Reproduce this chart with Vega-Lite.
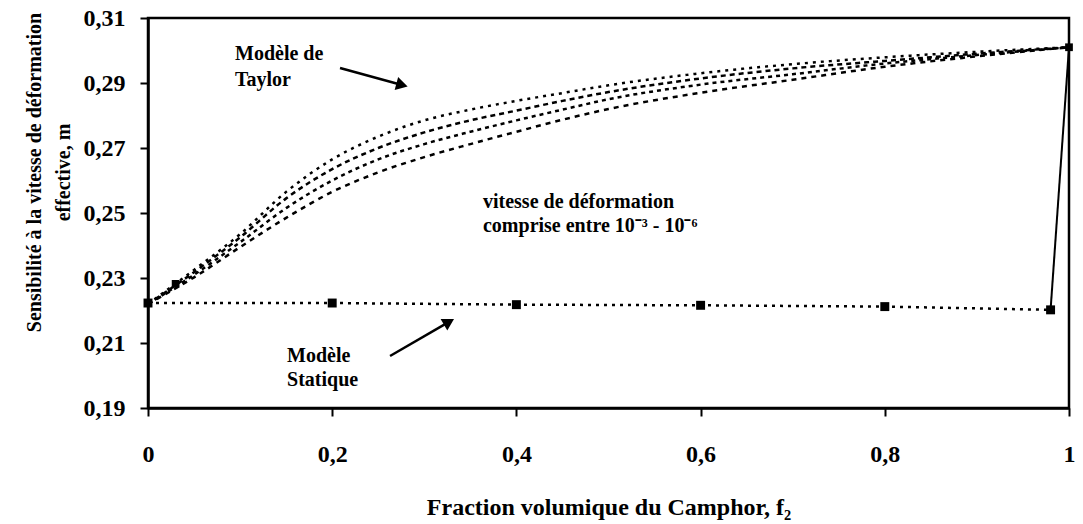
{
  "$schema": "https://vega.github.io/schema/vega-lite/v6.json",
  "autosize": "none",
  "width": 921,
  "height": 390,
  "padding": {"left": 148, "top": 18, "right": 14, "bottom": 116},
  "background": "white",
  "config": {
    "view": {"stroke": "black", "strokeWidth": 2.5},
    "font": "Liberation Serif",
    "axis": {"grid": false, "domainColor": "black", "domainWidth": 2.5, "tickColor": "black", "tickWidth": 2, "tickSize": 8,
      "labelFont": "Liberation Serif", "labelFontWeight": "bold", "labelFontSize": 24, "labelColor": "black",
      "titleFont": "Liberation Serif", "titleFontWeight": "bold", "titleColor": "black"}
  },
  "datasets": {
    "taylor": [
      {"f": 0, "m": 0.222, "c": "c1"}, {"f": 0.05, "m": 0.2325, "c": "c1"}, {"f": 0.1, "m": 0.2435, "c": "c1"}, {"f": 0.15, "m": 0.2565, "c": "c1"}, {"f": 0.2, "m": 0.2665, "c": "c1"}, {"f": 0.25, "m": 0.2735, "c": "c1"}, {"f": 0.3, "m": 0.2785, "c": "c1"}, {"f": 0.35, "m": 0.2818, "c": "c1"}, {"f": 0.4, "m": 0.2845, "c": "c1"}, {"f": 0.45, "m": 0.2869, "c": "c1"}, {"f": 0.5, "m": 0.2893, "c": "c1"}, {"f": 0.6, "m": 0.293, "c": "c1"}, {"f": 0.7, "m": 0.2958, "c": "c1"}, {"f": 0.8, "m": 0.2979, "c": "c1"}, {"f": 0.9, "m": 0.2996, "c": "c1"}, {"f": 1, "m": 0.301, "c": "c1"},
      {"f": 0, "m": 0.222, "c": "c2"}, {"f": 0.05, "m": 0.2318, "c": "c2"}, {"f": 0.1, "m": 0.2425, "c": "c2"}, {"f": 0.15, "m": 0.2545, "c": "c2"}, {"f": 0.2, "m": 0.2635, "c": "c2"}, {"f": 0.25, "m": 0.27, "c": "c2"}, {"f": 0.3, "m": 0.2748, "c": "c2"}, {"f": 0.35, "m": 0.2785, "c": "c2"}, {"f": 0.4, "m": 0.2815, "c": "c2"}, {"f": 0.45, "m": 0.2845, "c": "c2"}, {"f": 0.5, "m": 0.2872, "c": "c2"}, {"f": 0.6, "m": 0.2914, "c": "c2"}, {"f": 0.7, "m": 0.2945, "c": "c2"}, {"f": 0.8, "m": 0.2968, "c": "c2"}, {"f": 0.9, "m": 0.299, "c": "c2"}, {"f": 1, "m": 0.301, "c": "c2"},
      {"f": 0, "m": 0.222, "c": "c3"}, {"f": 0.05, "m": 0.231, "c": "c3"}, {"f": 0.1, "m": 0.241, "c": "c3"}, {"f": 0.15, "m": 0.2515, "c": "c3"}, {"f": 0.2, "m": 0.26, "c": "c3"}, {"f": 0.25, "m": 0.2665, "c": "c3"}, {"f": 0.3, "m": 0.2712, "c": "c3"}, {"f": 0.35, "m": 0.275, "c": "c3"}, {"f": 0.4, "m": 0.2785, "c": "c3"}, {"f": 0.45, "m": 0.2818, "c": "c3"}, {"f": 0.5, "m": 0.285, "c": "c3"}, {"f": 0.6, "m": 0.2895, "c": "c3"}, {"f": 0.7, "m": 0.2927, "c": "c3"}, {"f": 0.8, "m": 0.296, "c": "c3"}, {"f": 0.9, "m": 0.2986, "c": "c3"}, {"f": 1, "m": 0.301, "c": "c3"},
      {"f": 0, "m": 0.222, "c": "c4"}, {"f": 0.05, "m": 0.2302, "c": "c4"}, {"f": 0.1, "m": 0.2395, "c": "c4"}, {"f": 0.15, "m": 0.2485, "c": "c4"}, {"f": 0.2, "m": 0.2565, "c": "c4"}, {"f": 0.25, "m": 0.2625, "c": "c4"}, {"f": 0.3, "m": 0.2672, "c": "c4"}, {"f": 0.35, "m": 0.2712, "c": "c4"}, {"f": 0.4, "m": 0.275, "c": "c4"}, {"f": 0.45, "m": 0.2787, "c": "c4"}, {"f": 0.5, "m": 0.282, "c": "c4"}, {"f": 0.6, "m": 0.287, "c": "c4"}, {"f": 0.7, "m": 0.291, "c": "c4"}, {"f": 0.8, "m": 0.295, "c": "c4"}, {"f": 0.9, "m": 0.2982, "c": "c4"}, {"f": 1, "m": 0.301, "c": "c4"}
    ],
    "static": [
      {"f": 0, "m": 0.2223}, {"f": 0.2, "m": 0.2223}, {"f": 0.4, "m": 0.2218}, {"f": 0.6, "m": 0.2216}, {"f": 0.8, "m": 0.2212}, {"f": 0.98, "m": 0.2202}
    ],
    "jump": [
      {"f": 0.98, "m": 0.2202}, {"f": 1, "m": 0.301}
    ],
    "ends": [
      {"f": 1, "m": 0.301}, {"f": 0.03, "m": 0.2282}
    ],
    "arrows": [
      {"f": 0.2085, "m": 0.2946, "f2": 0.2758, "m2": 0.2894, "ang": 15},
      {"f": 0.2628, "m": 0.206, "f2": 0.3268, "m2": 0.2165, "ang": 330}
    ],
    "labels": [
      {"f": 0.0945, "m": 0.2971, "label": "Modèle de"},
      {"f": 0.0945, "m": 0.2891, "label": "Taylor"},
      {"f": 0.3637, "m": 0.2515, "label": "vitesse de déformation"},
      {"f": 0.3637, "m": 0.2442, "label": "comprise entre 10⁻³ - 10⁻⁶"},
      {"f": 0.151, "m": 0.2041, "label": "Modèle"},
      {"f": 0.151, "m": 0.1968, "label": "Statique"}
    ]
  },
  "encoding": {
    "x": {"field": "f", "type": "quantitative",
      "scale": {"domain": [0, 1], "nice": false, "zero": false},
      "axis": {"values": [0, 0.2, 0.4, 0.6, 0.8, 1], "labelExpr": "replace(toString(datum.value), '.', ',')", "labelPadding": 26, "labelFlush": false,
        "title": "Fraction volumique du Camphor, f₂", "titleFontSize": 24, "titleY": 106, "titleBaseline": "alphabetic"}},
    "y": {"field": "m", "type": "quantitative",
      "scale": {"domain": [0.19, 0.31], "nice": false, "zero": false},
      "axis": {"values": [0.19, 0.21, 0.23, 0.25, 0.27, 0.29, 0.31], "labelExpr": "replace(format(datum.value, '.2f'), '.', ',')", "labelPadding": 15,
        "title": ["Sensibilité à la vitesse de déformation", "effective, m"], "titleFontSize": 20, "titleLineHeight": 29,
        "titleAngle": -90, "titleX": -114, "titleY": 154, "titleAlign": "center", "titleBaseline": "middle"}}
  },
  "layer": [
    {"data": {"name": "taylor"}, "mark": {"type": "line", "color": "black", "strokeWidth": 2.5, "interpolate": "monotone"},
      "encoding": {"strokeDash": {"field": "c", "type": "nominal", "legend": null,
        "scale": {"domain": ["c1", "c2", "c3", "c4"], "range": [[3, 5], [5, 4], [4, 4], [5, 5]]}}}},
    {"data": {"name": "static"}, "mark": {"type": "line", "color": "black", "strokeWidth": 2.5, "strokeDash": [3, 5]}},
    {"data": {"name": "static"}, "mark": {"type": "point", "shape": "square", "filled": true, "color": "black", "size": 80, "opacity": 1}},
    {"data": {"name": "jump"}, "mark": {"type": "line", "color": "black", "strokeWidth": 2}},
    {"data": {"name": "ends"}, "mark": {"type": "point", "shape": "square", "filled": true, "color": "black", "size": 60, "opacity": 1}},
    {"data": {"name": "arrows"}, "mark": {"type": "rule", "color": "black", "strokeWidth": 2.5},
      "encoding": {"x2": {"field": "f2"}, "y2": {"field": "m2"}}},
    {"data": {"name": "arrows"}, "mark": {"type": "point", "shape": "triangle-right", "filled": true, "color": "black", "size": 180, "opacity": 1},
      "encoding": {"x": {"field": "f2", "type": "quantitative"}, "y": {"field": "m2", "type": "quantitative"}, "angle": {"field": "ang", "type": "quantitative", "scale": null}}},
    {"data": {"name": "labels"}, "mark": {"type": "text", "align": "left", "baseline": "alphabetic", "font": "Liberation Serif", "fontWeight": "bold", "fontSize": 20, "color": "black"},
      "encoding": {"text": {"field": "label"}}}
  ]
}
